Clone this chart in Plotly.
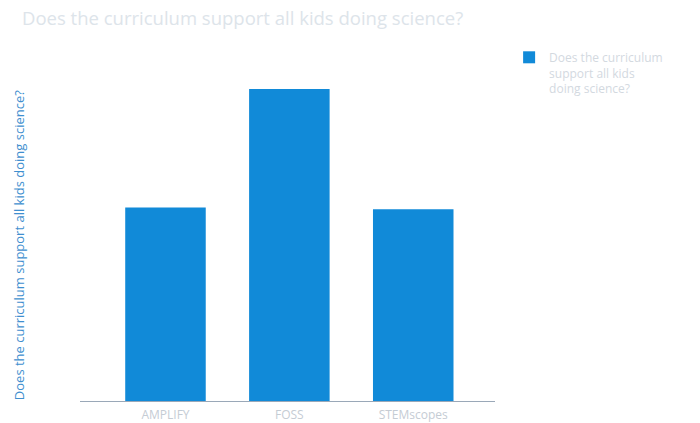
import plotly.graph_objects as go

# Curriculum ratings
curricula = ["AMPLIFY", "FOSS", "STEMscopes"]
support_scores = [62, 100, 61.5]
series_name = "Does the curriculum<br>support all kids<br>doing science?"
question = "Does the curriculum support all kids doing science?"

BAR_BLUE = "#118ad8"

fig = go.Figure()
fig.add_trace(go.Bar(
    x=curricula,
    y=support_scores,
    name=series_name,
    marker=dict(color=BAR_BLUE, line=dict(width=0)),
    showlegend=True,
))

fig.update_layout(
    width=700,
    height=423,
    paper_bgcolor="white",
    plot_bgcolor="white",
    margin=dict(l=80, r=205, t=60, b=22, autoexpand=False),
    bargap=0.35,
    font=dict(family="Open Sans, sans-serif"),
    title=dict(
        text=question,
        x=22 / 700, xanchor="left",
        y=1 - 19 / 423, yanchor="middle",
        font=dict(size=18.5, color="#dde4ea"),
    ),
    xaxis=dict(
        range=[-0.69, 2.66],
        showline=True, linecolor="#9aa8b8", linewidth=1,
        showgrid=False, zeroline=False,
        ticks="", automargin=False, ticklabelstandoff=3,
        tickfont=dict(size=12, color="#c5ccd4"),
    ),
    yaxis=dict(
        range=[0, 109.3],
        showgrid=False, zeroline=False, showline=False,
        showticklabels=False, ticks="", automargin=False,
    ),
    legend=dict(
        x=1.034, y=(401 - 43) / 341, xanchor="left", yanchor="top",
        valign="top",
        font=dict(size=12, color="#d3d9df"),
        bgcolor="rgba(0,0,0,0)",
    ),
    annotations=[dict(
        text=question,
        xref="paper", yref="paper",
        x=(19 - 80) / 415, y=0.457,
        xanchor="center", yanchor="middle",
        textangle=-90, showarrow=False,
        font=dict(size=13, color="#3f8fcf"),
    )],
)

fig.write_html("out.html")
